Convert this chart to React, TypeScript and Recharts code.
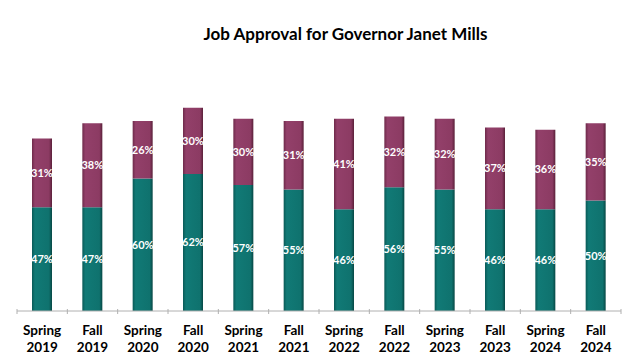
import { Bar, BarChart, LabelList, XAxis, YAxis } from "recharts";

const seasons = ["Spring", "Fall", "Spring", "Fall", "Spring", "Fall", "Spring", "Fall", "Spring", "Fall", "Spring", "Fall"];
const years = ["2019", "2019", "2020", "2020", "2021", "2021", "2022", "2022", "2023", "2023", "2024", "2024"];
const approve = [47, 47, 60, 62, 57, 55, 46, 56, 55, 46, 46, 50];
const disapprove = [31, 38, 26, 30, 30, 31, 41, 32, 32, 37, 36, 35];

const data = seasons.map((s, i) => ({
  label: `${s} ${years[i]}`,
  approve: approve[i],
  disapprove: disapprove[i],
}));

const W = 641;
const H = 360;
const margin = { top: 90, right: 20, bottom: 0, left: 17 };
const band = (W - margin.left - margin.right) / data.length;

function Tick(props: any) {
  const { x, y, payload, index } = props;
  const [season, year] = String(payload.value).split(" ");
  const last = index === data.length - 1;
  return (
    <g>
      <line x1={x - band / 2} x2={x - band / 2} y1={y - 8} y2={y - 3} stroke="#b0b0b0" />
      {last && <line x1={x + band / 2} x2={x + band / 2} y1={y - 8} y2={y - 3} stroke="#b0b0b0" />}
      <text x={x} y={y + 18} textAnchor="middle" fontSize={13.5} fontWeight={700} fill="#000">
        {season}
      </text>
      <text x={x} y={y + 35} textAnchor="middle" fontSize={13.5} fontWeight={700} fill="#000">
        {year}
      </text>
    </g>
  );
}

const pct = (v: any) => `${v}%`;

export default function App() {
  return (
    <div style={{ position: "absolute", left: 0, top: 0, width: W, height: H, background: "#fff", fontFamily: "Lato, sans-serif" }}>
      <div
        style={{
          position: "absolute",
          top: 23,
          left: 0,
          width: W,
          paddingLeft: 50,
          boxSizing: "border-box",
          textAlign: "center",
          fontSize: 17,
          fontWeight: 700,
          color: "#000",
        }}
      >
        Job Approval for Governor Janet Mills
      </div>
      <BarChart width={W} height={H} data={data} margin={margin} barSize={20}>
        <defs>
          <linearGradient id="gGreen" x1="0" x2="1" y1="0" y2="0">
            <stop offset="0" stopColor="#0a5a57" />
            <stop offset="0.15" stopColor="#117a76" />
            <stop offset="0.85" stopColor="#0f726e" />
            <stop offset="1" stopColor="#074744" />
          </linearGradient>
          <linearGradient id="gPurple" x1="0" x2="1" y1="0" y2="0">
            <stop offset="0" stopColor="#6e2a4a" />
            <stop offset="0.15" stopColor="#93406a" />
            <stop offset="0.85" stopColor="#8c3b63" />
            <stop offset="1" stopColor="#5a2039" />
          </linearGradient>
        </defs>
        <XAxis
          dataKey="label"
          height={49}
          tick={<Tick />}
          tickLine={false}
          axisLine={{ stroke: "#b0b0b0" }}
          interval={0}
          tickMargin={0}
        />
        <YAxis hide domain={[0, 100]} />
        <Bar dataKey="approve" stackId="a" fill="url(#gGreen)" isAnimationActive={false}>
          <LabelList dataKey="approve" position="center" formatter={pct} fill="#fff" fontSize={11} fontWeight={700} />
        </Bar>
        <Bar dataKey="disapprove" stackId="a" fill="url(#gPurple)" isAnimationActive={false}>
          <LabelList dataKey="disapprove" position="center" formatter={pct} fill="#fff" fontSize={11} fontWeight={700} />
        </Bar>
      </BarChart>
    </div>
  );
}
